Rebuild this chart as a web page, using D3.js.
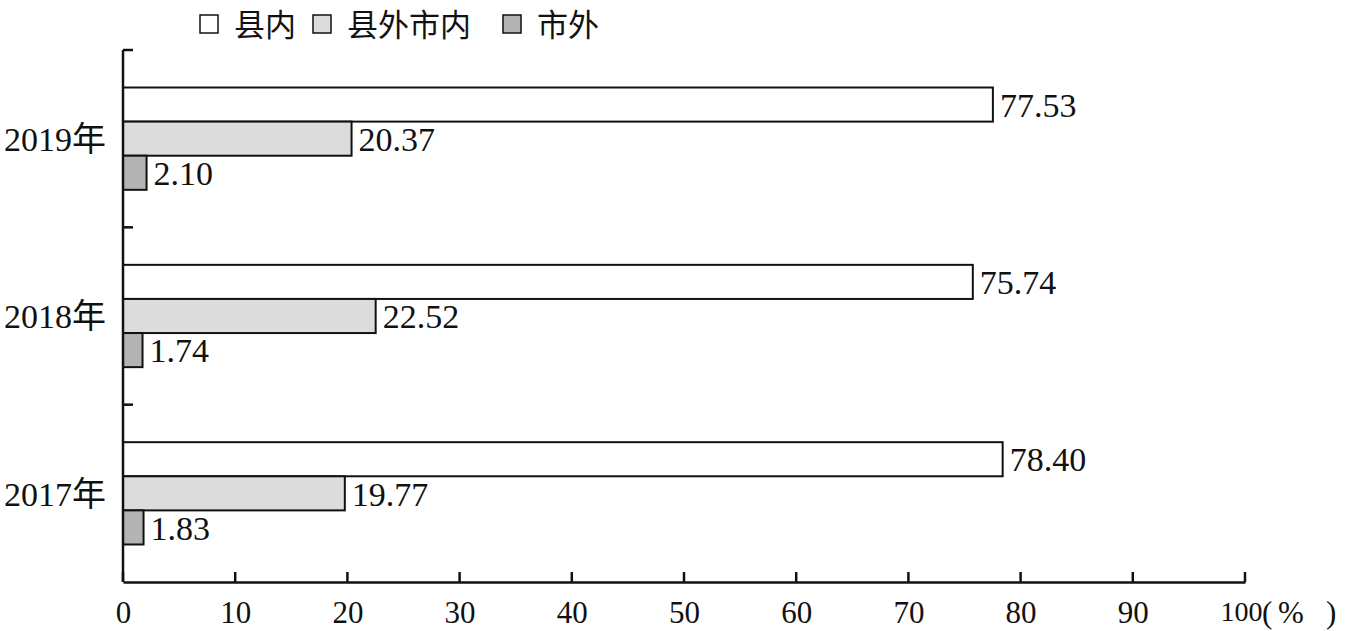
<!DOCTYPE html>
<html>
<head>
<meta charset="utf-8">
<script src="https://cdn.jsdelivr.net/npm/d3@7"></script>
<style>
	body { margin: 0; background: #fff; }
	text { font-family: "Liberation Serif", "Times New Roman", "Noto Sans CJK SC", serif; fill: #111; }
</style>
</head>
<body>
<div id="chart"></div>
<script>
// data
const years = ["2019年", "2018年", "2017年"];
const seriesNames = ["县内", "县外市内", "市外"];
const inCounty = [77.53, 75.74, 78.40];
const outCountyInCity = [20.37, 22.52, 19.77];
const outCity = [2.10, 1.74, 1.83];
const xTicks = [0, 10, 20, 30, 40, 50, 60, 70, 80, 90, 100];
const seriesColors = ["#ffffff", "#dcdcdc", "#b3b3b3"];

const width = 1347, height = 631;
const margin = { top: 50, right: 102, bottom: 49, left: 123 };
const innerW = width - margin.left - margin.right;
const innerH = height - margin.top - margin.bottom;

const svg = d3.select("#chart").append("svg")
	.attr("width", width)
	.attr("height", height);

const g = svg.append("g")
	.attr("transform", "translate(" + margin.left + "," + margin.top + ")");

const x = d3.scaleLinear().domain([0, 100]).range([0, innerW]);

const y = d3.scaleBand().domain(years).range([0, innerH]);

const ySub = d3.scaleBand()
	.domain(seriesNames)
	.range([0, y.bandwidth()])
	.paddingInner(0)
	.paddingOuter(1.1);

let rows = [];
years.forEach((yr, i) => {
	[inCounty, outCountyInCity, outCity].forEach((arr, j) => {
		rows.push({ year: yr, series: seriesNames[j], value: arr[i], color: seriesColors[j] });
	});
});

// bars
g.selectAll(".bar")
	.data(rows)
	.enter()
	.append("rect")
	.attr("class", "bar")
	.attr("x", x(0))
	.attr("y", d => y(d.year) + ySub(d.series))
	.attr("width", d => x(d.value) - x(0))
	.attr("height", ySub.bandwidth())
	.attr("fill", d => d.color)
	.attr("stroke", "#111")
	.attr("stroke-width", 2);

// value labels
g.selectAll(".val")
	.data(rows)
	.enter()
	.append("text")
	.attr("class", "val")
	.attr("x", d => x(d.value) + 7)
	.attr("y", d => y(d.year) + ySub(d.series) + ySub.bandwidth() / 2)
	.attr("dy", "0.36em")
	.attr("font-size", 34)
	.text(d => d.value.toFixed(2));

// x axis
const xAxis = g.append("g")
	.attr("transform", "translate(0," + innerH + ")")
	.call(d3.axisBottom(x).tickValues(xTicks).tickSize(0).tickPadding(19));
xAxis.select(".domain").attr("stroke", "#111").attr("stroke-width", 2.5);
xAxis.selectAll("text").attr("font-size", 31).attr("font-family", "Liberation Serif").attr("fill", "#111");

// the last label is a bit narrower in the original, to leave room for the unit
xAxis.selectAll(".tick text")
	.filter(d => d === 100)
	.attr("x", -4)
	.attr("font-size", 28);

g.selectAll(".xtick")
	.data(xTicks)
	.enter()
	.append("line")
	.attr("class", "xtick")
	.attr("x1", d => x(d)).attr("x2", d => x(d))
	.attr("y1", innerH).attr("y2", innerH - 10)
	.attr("stroke", "#111")
	.attr("stroke-width", 2.5);

// unit
const unit = g.append("text")
	.attr("y", innerH + 19)
	.attr("dy", "0.71em")
	.attr("font-size", 31);
unit.append("tspan").attr("x", x(100) + 17).text("(");
unit.append("tspan").attr("x", x(100) + 33).text("%");
unit.append("tspan").attr("x", x(100) + 81).text(")");

// y axis
g.append("line")
	.attr("x1", 0).attr("x2", 0)
	.attr("y1", 0).attr("y2", innerH)
	.attr("stroke", "#111")
	.attr("stroke-width", 2.5);

g.selectAll(".ytick")
	.data(years)
	.enter()
	.append("line")
	.attr("class", "ytick")
	.attr("x1", 0).attr("x2", 10)
	.attr("y1", d => y(d)).attr("y2", d => y(d))
	.attr("stroke", "#111")
	.attr("stroke-width", 2.5);

g.selectAll(".ylab")
	.data(years)
	.enter()
	.append("text")
	.attr("class", "ylab")
	.attr("x", -17)
	.attr("y", d => y(d) + y.bandwidth() / 2)
	.attr("dy", "0.36em")
	.attr("text-anchor", "end")
	.attr("font-size", 34)
	.text(d => d);

// legend
const legendX = [200, 313, 503];
const legend = svg.append("g");
seriesNames.forEach((name, i) => {
	legend.append("rect")
		.attr("x", legendX[i])
		.attr("y", 15)
		.attr("width", 18)
		.attr("height", 18)
		.attr("fill", seriesColors[i])
		.attr("stroke", "#111")
		.attr("stroke-width", 1.5);
	legend.append("text")
		.attr("x", legendX[i] + 34)
		.attr("y", 24)
		.attr("dy", "0.38em")
		.attr("font-size", 31)
		.text(name);
});
</script>
</body>
</html>
